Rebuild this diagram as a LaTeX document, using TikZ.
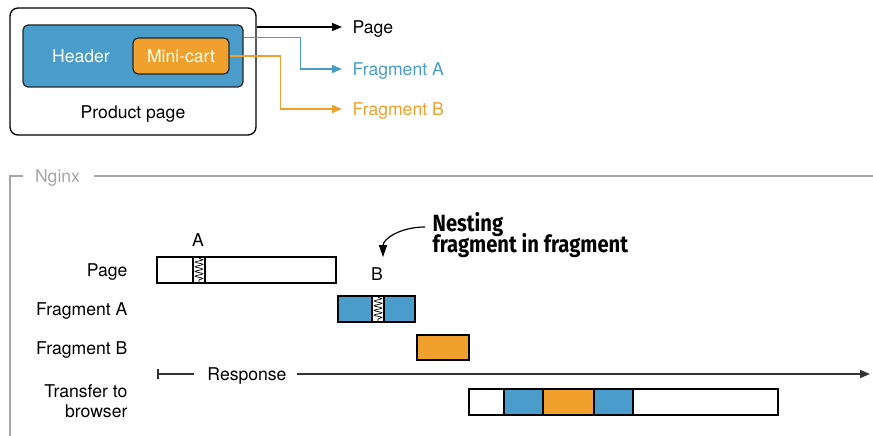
\documentclass[tikz,border=0pt]{standalone}
\usepackage{fontspec}
\setmainfont{TeX Gyre Heros}
\newfontfamily\notefont[FakeStretch=0.86]{Fira Sans Bold}
\usepackage{tikz}
\usetikzlibrary{positioning,arrows.meta,decorations.pathmorphing}
\definecolor{fragblue}{HTML}{4A9DCB}
\definecolor{fragorange}{HTML}{F0A02C}
\definecolor{framegray}{HTML}{A6A6A6}
\tikzset{
  lbl/.style={font=\fontsize{17.6}{20}\selectfont, inner sep=0pt, text height=12.6pt, text depth=0pt},
  lbltwo/.style={font=\fontsize{17.6}{20}\selectfont, inner sep=0pt, align=right},
  bar/.style={draw=black, line width=1.2pt, fill=white},
  spring/.style={decorate, line width=0.7pt, decoration={snake, amplitude=3.8pt, segment length=4.7pt}},
  tip/.style={-{Triangle[length=10pt,width=8pt]}}
}

\begin{document}
\begin{tikzpicture}[x=1pt,y=-1pt,line width=1.2pt]
\useasboundingbox (0,0) rectangle (873,436);
\node[draw, line width=1.3pt, rounded corners=8pt, minimum width=246pt, minimum height=127pt, inner sep=0pt] (product) at (133,71.5) {};
\node[draw=black!85, fill=fragblue, rounded corners=5pt, minimum width=220pt, minimum height=62pt, inner sep=0pt] (header) at (133,56) {};
\node[lbl, draw=black!85, fill=fragorange, rounded corners=5pt, minimum width=96pt, minimum height=36pt, text=white] (cart) at (181,56) {Mini-cart};
\node[lbl, text=white] (headertxt) at (81,56) {Header};
\node[lbl] (prodtxt) at (133,112) {Product page};
\node[lbl, anchor=west] (out) at (352,27) {Page};
\node[lbl, anchor=west, text=fragblue] (fraga) at (352,69) {Fragment A};
\node[lbl, anchor=west, text=fragorange] (fragb) at (352,109) {Fragment B};
\draw[tip] (product.east |- out) -- ([xshift=-10pt]out.west);
\draw[tip, fragblue] (header.east |- cart.north) -- ++(57,0) |- ([xshift=-10pt]fraga.west);
\draw[tip, fragorange] (cart.east) -- ++(51,0) |- ([xshift=-10pt]fragb.west);

\node[lbl, text=framegray] (nginx) at (57.5,176) {Nginx};
\draw[framegray] ([xshift=-11pt]nginx.west) -- (10,176) -- (10,436);
\draw[framegray] ([xshift=13pt]nginx.east) -- (873,176);

\node[lbl, anchor=east] (rowpage) at (128,270) {Page};
\node[lbl, anchor=east] (rowa) at (128,309) {Fragment A};
\node[lbl, anchor=east] (rowb) at (128,348) {Fragment B};
\node[lbltwo, anchor=east] (rowtr) at (128,401) {Transfer to\\browser};

\draw[bar] (157,257) rectangle (336,283);
\draw[bar] (193,257) rectangle (205,283);
\draw[spring] (199,258.2) -- (199,281.8);
\node[lbl] (marka) at (198,240) {A};
\draw[bar, fill=fragblue] (338,296) rectangle (415,322);
\draw[bar] (372,296) rectangle (384,322);
\draw[spring] (378,297.2) -- (378,320.8);
\node[lbl] (markb) at (377,274) {B};
\draw[bar, fill=fragorange] (417,335) rectangle (469,360);

\node[anchor=north west, align=left, inner sep=0pt, font=\notefont\fontsize{23.5}{21}\selectfont] (note) at (432,212) {Nesting\\[-4pt]fragment in fragment};
\coordinate (notestart) at ([shift={(-7,15)}]note.north west);
\coordinate (tipb) at ([shift={(6,-10)}]markb.north);
\draw[-{Triangle[length=12pt,width=8pt]}] (notestart) .. controls +(-25,0) and +(0,-18) .. (tipb);

\node[lbl] (resp) at (247,374) {Response};
\coordinate (tstart) at (157,374);
\coordinate (tend) at (870,374);
\draw[black!80, line width=1.5pt, {Bar[width=10pt]}-] (tstart) -- ([xshift=-13pt]resp.west);
\draw[black!80, line width=1.5pt, tip] ([xshift=10pt]resp.east) -- (tend);

\draw[bar] (469,389) rectangle (778,415);
\draw[bar, fill=fragblue] (504,389) rectangle (543,415);
\draw[bar, fill=fragorange] (543,389) rectangle (594,415);
\draw[bar, fill=fragblue] (594,389) rectangle (633,415);
\end{tikzpicture}
\end{document}
